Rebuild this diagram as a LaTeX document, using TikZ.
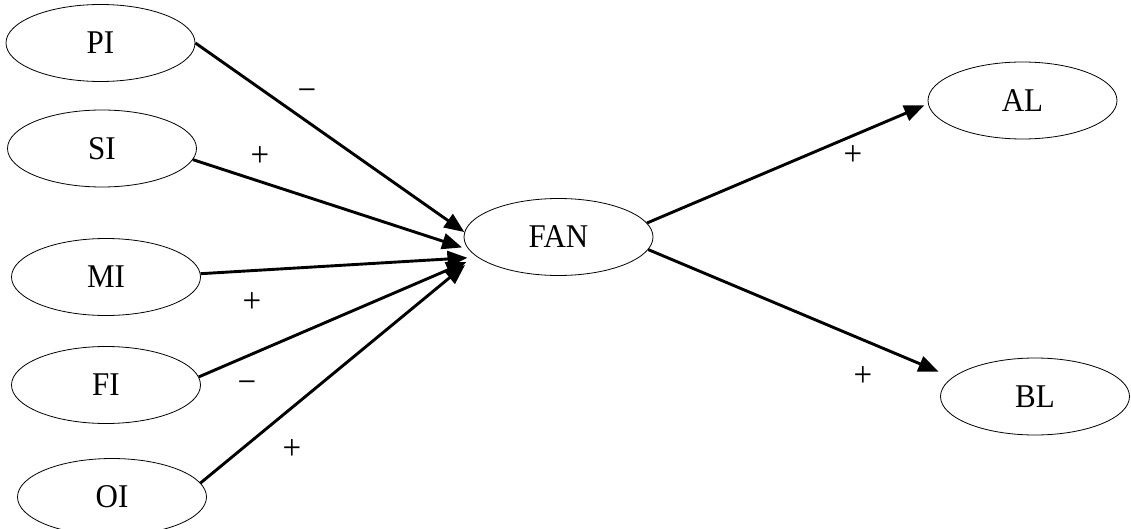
\documentclass[tikz,border=0pt]{standalone}
\usepackage{fontspec}
\setmainfont{Liberation Serif}
\usepackage{graphicx}
\usetikzlibrary{shapes.geometric,arrows.meta}
\newcommand{\tx}[1]{\scalebox{1}[1.07]{#1}}
\tikzset{
  var/.style={draw, ellipse, line width=0.8pt, inner sep=0pt,
    minimum width=189pt, minimum height=77pt,
    font=\fontsize{31}{37}\selectfont},
  link/.style={line width=2.9pt, -{Triangle[length=20pt,width=16pt]}},
  sign/.style={inner sep=0pt, font=\fontsize{33}{38}\selectfont}
}
\begin{document}
\begin{tikzpicture}[x=1pt,y=-1pt]
\useasboundingbox (0,0) rectangle (1131,529);
\node[var] (PI)  at (100.5,43)  {\tx{PI}};
\node[var] (SI)  at (102,148.5) {\tx{SI}};
\node[var] (MI)  at (106,277)   {\tx{MI}};
\node[var] (FI)  at (106,385)   {\tx{FI}};
\node[var] (OI)  at (112,497)   {\tx{OI}};
\node[var] (FAN) at (558.5,237) {\tx{FAN}};
\node[var] (AL)  at (1022.5,100.5) {\tx{AL}};
\node[var] (BL)  at (1035,396.5) {\tx{BL}};

\draw[link] (PI.east) -- (FAN.177);
\draw[link, shorten >=7pt] (SI.-7) -- (FAN.188);
\draw[link, shorten >=10pt] (MI.2) -- (FAN.194);
\draw[link, shorten >=12pt] (FI.5) -- (FAN.194);
\draw[link, shorten >=14pt] (OI.9) -- (FAN.193);
\draw[link, shorten >=4pt] (FAN.9) -- (AL.182);
\draw[link, shorten >=15pt] (FAN.-8) -- (BL.167);

\node[sign] (sPI) at (307,95)  {\tx{−}};
\node[sign] (sSI) at (260,157) {\tx{+}};
\node[sign] (sMI) at (252,303) {\tx{+}};
\node[sign] (sFI) at (247,387) {\tx{−}};
\node[sign] (sOI) at (292,450) {\tx{+}};
\node[sign] (sAL) at (853,156) {\tx{+}};
\node[sign] (sBL) at (863,377) {\tx{+}};
\end{tikzpicture}
\end{document}
